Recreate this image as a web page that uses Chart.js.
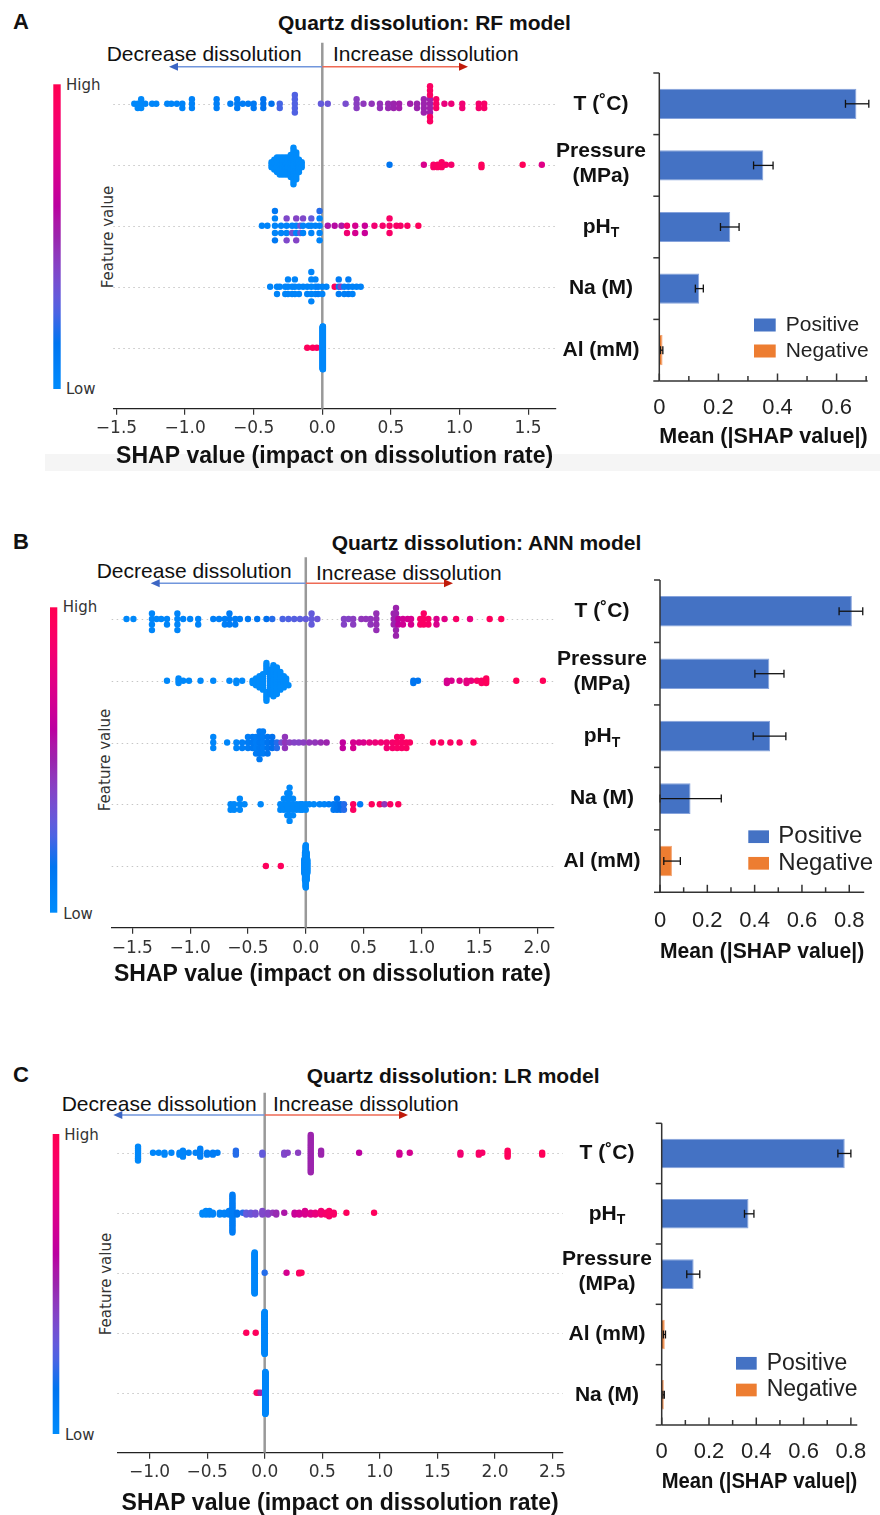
<!DOCTYPE html>
<html>
<head>
<meta charset="utf-8">
<title>Quartz dissolution SHAP</title>
<script src="https://cdn.jsdelivr.net/npm/chart.js@4.4.1/dist/chart.umd.min.js"></script>
<style>
  body { margin: 0; background: #fff; }
  #page { position: relative; width: 880px; height: 1515px; overflow: hidden; background: #fff;
          font-family: "Liberation Sans", Arial, sans-serif; color: #111; }
  #page canvas { position: absolute; }
  .lbl { position: absolute; white-space: nowrap; line-height: 1; transform: translateY(-50%); }
  .band { position: absolute; background: #f5f5f5; }
</style>
</head>
<body>
<div id="page"></div>
<script>
// ============================================================
// Data
// each swarm row: [SHAP value, number of samples, feature value 0..1]
// ============================================================
const featuresA = ['T (˚C)', ['Pressure', '(MPa)'], 'pH_T', 'Na (M)', 'Al (mM)'];
const featuresB = ['T (˚C)', ['Pressure', '(MPa)'], 'pH_T', 'Na (M)', 'Al (mM)'];
const featuresC = ['T (˚C)', 'pH_T', ['Pressure', '(MPa)'], 'Al (mM)', 'Na (M)'];

// --- A: RF model ---
const swarmA_T = [
  [-1.37, 1, 0.02], [-1.345, 2, 0.02], [-1.32, 3, 0.02], [-1.29, 1, 0.03], [-1.24, 1, 0.03], [-1.21, 1, 0.03],
  [-1.13, 1, 0.04], [-1.10, 1, 0.04], [-1.06, 1, 0.05], [-1.02, 2, 0.05], [-0.95, 3, 0.06],
  [-0.77, 3, 0.08], [-0.67, 1, 0.09], [-0.62, 3, 0.1], [-0.58, 1, 0.1], [-0.54, 1, 0.11], [-0.50, 2, 0.12],
  [-0.43, 3, 0.16], [-0.37, 1, 0.18], [-0.31, 2, 0.24], [-0.20, 5, 0.26],
  [-0.01, 1, 0.3], [0.04, 1, 0.32], [0.17, 1, 0.36],
  [0.25, 3, 0.42], [0.30, 1, 0.44], [0.36, 1, 0.45], [0.42, 2, 0.46], [0.48, 2, 0.48], [0.52, 2, 0.5],
  [0.56, 2, 0.52], [0.64, 1, 0.52], [0.69, 2, 0.5], [0.74, 4, 0.5], [0.785, 4, 0.52], [0.785, 5, 0.92],
  [0.83, 3, 0.9], [0.89, 1, 0.8], [0.94, 1, 0.82], [1.02, 2, 0.85], [1.14, 2, 0.88], [1.18, 2, 0.9]
];
const swarmA_P = [
  [-0.37, 3, 0], [-0.35, 5, 0], [-0.33, 7, 0], [-0.31, 8, 0], [-0.29, 8, 0], [-0.27, 8, 0], [-0.25, 8, 0],
  [-0.23, 10, 0], [-0.21, 16, 0], [-0.19, 12, 0], [-0.17, 6, 0], [-0.15, 3, 0],
  [0.49, 1, 0.15], [0.74, 1, 0.72], [0.81, 2, 0.9], [0.84, 2, 0.92], [0.87, 3, 0.92], [0.90, 1, 0.9],
  [0.94, 1, 0.88], [1.16, 2, 0.95], [1.46, 1, 0.97], [1.60, 1, 0.75]
];
const swarmA_pH = [
  [-0.44, 1, 0.05], [-0.40, 1, 0.05], [-0.345, 3, 0.05], [-0.345, 2, 0.12], [-0.30, 2, 0.05],
  [-0.26, 2, 0.05], [-0.26, 2, 0.38], [-0.22, 1, 0.05], [-0.22, 1, 0.35], [-0.19, 2, 0.05], [-0.19, 2, 0.4],
  [-0.16, 2, 0.32], [-0.14, 2, 0.05], [-0.14, 1, 0.38], [-0.10, 1, 0.05], [-0.08, 2, 0.05], [-0.08, 1, 0.3],
  [-0.05, 1, 0.05], [-0.02, 4, 0.05], [-0.02, 1, 0.2],
  [0.04, 1, 0.55], [0.09, 1, 0.58], [0.14, 1, 0.55], [0.18, 2, 0.85], [0.24, 2, 0.7], [0.31, 2, 0.65],
  [0.38, 1, 0.85], [0.44, 1, 0.88], [0.49, 3, 0.9], [0.54, 1, 0.9], [0.57, 1, 0.9], [0.62, 1, 0.92], [0.70, 1, 0.95]
];
const swarmA_Na = [
  [-0.38, 1, 0.05], [-0.33, 2, 0.05], [-0.31, 1, 0.05], [-0.27, 2, 0.05], [-0.25, 3, 0.05], [-0.22, 2, 0.05],
  [-0.20, 3, 0.05], [-0.17, 2, 0.05], [-0.14, 1, 0.05], [-0.11, 2, 0.05], [-0.08, 5, 0.05], [-0.05, 3, 0.05],
  [-0.03, 2, 0.08], [0.0, 2, 0.05], [0.03, 1, 0.05],
  [0.09, 1, 0.95], [0.12, 3, 0.1], [0.135, 1, 0.4], [0.16, 2, 0.08], [0.19, 3, 0.1], [0.22, 2, 0.06],
  [0.25, 1, 0.06], [0.28, 1, 0.06]
];
const swarmA_Al = [[-0.11, 1, 0.95], [-0.07, 1, 0.95], [-0.04, 1, 0.92], [0.004, 130, 0.02]];

const shapRangeA = [-1.523, 1.703];
const meanA = [0.667, 0.352, 0.240, 0.135, 0.011];
const signA = ['pos', 'pos', 'pos', 'pos', 'neg'];
const errLowA = [0.630, 0.319, 0.207, 0.122, 0.004];
const errHighA = [0.709, 0.385, 0.270, 0.149, 0.012];
const barMaxA = 0.705;

// --- B: ANN model ---
const swarmB_T = [
  [-1.55, 1, 0.02], [-1.49, 1, 0.02], [-1.33, 4, 0.03], [-1.29, 1, 0.03], [-1.25, 1, 0.03], [-1.20, 2, 0.04],
  [-1.11, 4, 0.04], [-1.06, 1, 0.05], [-1.0, 1, 0.05], [-0.93, 2, 0.05],
  [-0.80, 1, 0.08], [-0.75, 1, 0.08], [-0.70, 2, 0.08], [-0.66, 3, 0.1], [-0.61, 2, 0.1], [-0.57, 1, 0.1],
  [-0.50, 1, 0.12], [-0.42, 1, 0.14], [-0.34, 1, 0.18], [-0.29, 1, 0.2],
  [-0.20, 1, 0.25], [-0.15, 1, 0.26], [-0.10, 1, 0.27], [-0.05, 1, 0.28], [0.0, 1, 0.3], [0.05, 3, 0.3], [0.10, 1, 0.32],
  [0.33, 2, 0.4], [0.37, 1, 0.4], [0.41, 2, 0.42], [0.48, 1, 0.45], [0.52, 1, 0.45], [0.56, 2, 0.45], [0.61, 4, 0.47],
  [0.76, 3, 0.5], [0.78, 6, 0.5], [0.80, 2, 0.6], [0.84, 2, 0.68], [0.88, 1, 0.7], [0.91, 2, 0.7],
  [0.99, 2, 0.9], [1.02, 3, 0.92], [1.06, 2, 0.9], [1.13, 2, 0.72], [1.20, 1, 0.75], [1.30, 1, 0.9],
  [1.42, 1, 0.78], [1.59, 1, 0.95], [1.69, 1, 0.95]
];
const swarmB_P = [
  [-1.20, 1, 0.02], [-1.10, 3, 0.02], [-1.06, 1, 0.02], [-1.01, 1, 0.02], [-0.91, 1, 0.02], [-0.80, 1, 0.02],
  [-0.66, 1, 0.02], [-0.60, 2, 0.02], [-0.55, 1, 0.02],
  [-0.46, 2, 0], [-0.43, 4, 0], [-0.40, 6, 0], [-0.37, 8, 0], [-0.34, 10, 0], [-0.31, 12, 0.02], [-0.28, 15, 0],
  [-0.25, 13, 0], [-0.22, 9, 0], [-0.19, 6, 0], [-0.17, 3, 0], [-0.15, 1, 0],
  [0.93, 2, 0.15], [0.97, 1, 0.15], [1.22, 2, 0.7], [1.26, 1, 0.72], [1.33, 1, 0.75], [1.39, 2, 0.78],
  [1.43, 1, 0.8], [1.48, 1, 0.9], [1.52, 2, 0.92], [1.56, 3, 0.95], [1.82, 1, 0.97], [2.05, 1, 0.97]
];
const swarmB_pH = [
  [-0.80, 3, 0.03], [-0.68, 1, 0.03], [-0.60, 2, 0.05], [-0.55, 2, 0.08], [-0.50, 3, 0.1], [-0.46, 3, 0.12],
  [-0.43, 4, 0.1], [-0.40, 6, 0.12], [-0.37, 5, 0.1], [-0.33, 4, 0.15], [-0.29, 3, 0.18], [-0.25, 2, 0.2],
  [-0.21, 1, 0.35], [-0.18, 3, 0.45], [-0.14, 1, 0.42], [-0.10, 1, 0.4], [-0.06, 1, 0.4], [-0.02, 1, 0.42],
  [0.03, 1, 0.45], [0.08, 1, 0.45], [0.13, 1, 0.48], [0.18, 1, 0.5],
  [0.32, 2, 0.62], [0.41, 2, 0.7], [0.46, 1, 0.7], [0.50, 1, 0.72], [0.55, 1, 0.8], [0.60, 1, 0.82],
  [0.65, 1, 0.85], [0.70, 2, 0.85], [0.75, 2, 0.88], [0.79, 3, 0.9], [0.83, 3, 0.9], [0.87, 2, 0.92], [0.90, 1, 0.92],
  [1.10, 1, 0.92], [1.17, 1, 0.92], [1.25, 1, 0.92], [1.33, 1, 0.92], [1.45, 1, 0.95]
];
const swarmB_Na = [
  [-0.65, 2, 0.02], [-0.62, 2, 0.02], [-0.57, 3, 0.02], [-0.53, 1, 0.02], [-0.39, 1, 0.02],
  [-0.22, 2, 0.02], [-0.19, 3, 0.02], [-0.16, 5, 0.02], [-0.14, 7, 0.02], [-0.11, 4, 0.02], [-0.08, 2, 0.02],
  [-0.05, 2, 0.02], [-0.03, 2, 0.02], [0.0, 2, 0.02], [0.03, 1, 0.02], [0.07, 1, 0.02],
  [0.12, 1, 0.05], [0.16, 1, 0.05], [0.20, 1, 0.08], [0.24, 2, 0.12], [0.27, 3, 0.15], [0.30, 2, 0.18], [0.33, 2, 0.2],
  [0.41, 2, 0.93], [0.47, 1, 0.1], [0.57, 1, 0.95], [0.64, 1, 0.95], [0.68, 1, 0.45], [0.73, 1, 0.92], [0.80, 1, 0.95]
];
const swarmB_Al = [
  [-0.345, 1, 0.95], [-0.216, 1, 0.95],
  [-0.012, 20, 0.02], [-0.006, 40, 0.02], [0.0, 60, 0.02], [0.006, 40, 0.02], [0.012, 20, 0.02]
];

const shapRangeB = [-1.678, 2.14];
const meanB = [0.811, 0.462, 0.465, 0.129, 0.0505];
const signB = ['pos', 'pos', 'pos', 'pos', 'neg'];
const errLowB = [0.757, 0.401, 0.394, 0.0, 0.016];
const errHighB = [0.857, 0.524, 0.532, 0.259, 0.086];
const barMaxB = 0.863;

// --- C: LR model ---
const swarmC_T = [
  [-1.10, 8, 0.02], [-0.97, 1, 0.03], [-0.92, 1, 0.03], [-0.87, 2, 0.03], [-0.81, 1, 0.04], [-0.74, 2, 0.05],
  [-0.71, 4, 0.05], [-0.66, 1, 0.06], [-0.60, 1, 0.07], [-0.56, 5, 0.08], [-0.50, 2, 0.1], [-0.45, 2, 0.1],
  [-0.41, 1, 0.1], [-0.25, 3, 0.2], [-0.02, 2, 0.3], [0.17, 2, 0.38], [0.20, 1, 0.4], [0.29, 1, 0.42],
  [0.40, 20, 0.5], [0.49, 3, 0.5], [0.82, 1, 0.6], [1.17, 2, 0.68], [1.26, 1, 0.7], [1.70, 2, 0.85],
  [1.86, 2, 0.9], [1.89, 1, 0.9], [2.11, 4, 0.95], [2.41, 2, 0.97]
];
const swarmC_pH = [
  [-0.54, 2, 0.02], [-0.51, 3, 0.02], [-0.48, 3, 0.03], [-0.45, 2, 0.05], [-0.39, 2, 0.06], [-0.35, 2, 0.07],
  [-0.31, 3, 0.08], [-0.28, 22, 0.1], [-0.24, 2, 0.15], [-0.19, 1, 0.2], [-0.16, 2, 0.3], [-0.12, 2, 0.32],
  [-0.08, 2, 0.35], [-0.02, 3, 0.38], [0.03, 2, 0.4], [0.07, 1, 0.45], [0.10, 2, 0.48], [0.17, 1, 0.55],
  [0.26, 2, 0.65], [0.30, 2, 0.68], [0.35, 3, 0.72], [0.40, 2, 0.75], [0.44, 2, 0.8], [0.49, 3, 0.85],
  [0.53, 2, 0.88], [0.56, 4, 0.9], [0.60, 2, 0.9], [0.71, 1, 0.95], [0.95, 1, 0.95]
];
const swarmC_P = [[-0.087, 60, 0.03], [0.0, 1, 0.2], [0.19, 1, 0.7], [0.30, 2, 0.92], [0.32, 1, 0.95]];
const swarmC_Al = [[-0.16, 1, 0.95], [-0.078, 1, 0.95], [0.0, 100, 0.03]];
const swarmC_Na = [[-0.07, 1, 0.95], [-0.055, 1, 0.9], [-0.035, 1, 0.5], [0.006, 100, 0.03]];

const shapRangeC = [-1.28, 2.59];
const meanC = [0.774, 0.367, 0.135, 0.013, 0.009];
const signC = ['pos', 'pos', 'pos', 'neg', 'neg'];
const errLowC = [0.745, 0.35, 0.106, 0.007, 0.005];
const errHighC = [0.80, 0.39, 0.161, 0.016, 0.011];
const barMaxC = 0.827;

const legendNames = ['Positive', 'Negative'];
const barColors = { pos: '#4472C4', neg: '#ED7D31' };

// ============================================================
// Page layout (pixel positions on the 880 x 1515 page)
// ============================================================
const layoutA = {
  shapCanvas: { left: 0, top: 0, width: 560, height: 480 },
  shapArea: { left: 113.3, right: 556, top: 42.7, bottom: 408.7 },
  shapTickPad: 3.4, shapTitlePad: 11.8,
  colorbar: { x: 53.3, w: 7.4, top: 84.3, bottom: 389 },
  arrow: { y: 66.7, left: 169, right: 468 },
  barCanvas: { left: 540, top: 40, width: 340, height: 420 },
  barArea: { left: 659.3, right: 873, top: 73, bottom: 381 },
  barTickPad: 13.8, barTitlePad: 12,
  labelX: 601,
  legend: { boxX: 754, boxW: 21.7, boxH: 13, textX: 785.7, y: [325, 351], size: 21 },
  letter: [13, 21.7], title: [278, 21.7], dec: [106.7, 53.3], inc: [333, 53.3],
  high: [66, 85], low: [66, 389.3], fv: [108.3, 236.7],
  band: { left: 45, top: 454, width: 835, height: 17 }
};
const layoutB = {
  shapCanvas: { left: 0, top: 520, width: 560, height: 480 },
  shapArea: { left: 111.7, right: 553.3, top: 557.25, bottom: 927.75 },
  shapTickPad: 4.3, shapTitlePad: 13.5,
  colorbar: { x: 50, w: 7.3, top: 607.3, bottom: 912.7 },
  arrow: { y: 583.3, left: 150.7, right: 453 },
  barCanvas: { left: 540, top: 560, width: 340, height: 420 },
  barArea: { left: 660, right: 876.7, top: 580, bottom: 892.3 },
  barTickPad: 15.2, barTitlePad: 17.3,
  labelX: 602,
  legend: { boxX: 748.3, boxW: 20.7, boxH: 12.7, textX: 778.3, y: [836.7, 863.3], size: 24 },
  letter: [13, 541.7], title: [331.7, 541.7], dec: [96.7, 570], inc: [316, 571.7],
  high: [62.7, 607], low: [63.3, 914], fv: [105, 760]
};
const layoutC = {
  shapCanvas: { left: 0, top: 1050, width: 570, height: 465 },
  shapArea: { left: 117.3, right: 564, top: 1092.7, bottom: 1452.7 },
  shapTickPad: 3.8, shapTitlePad: 0.2,
  colorbar: { x: 52.7, w: 6.6, top: 1134, bottom: 1434 },
  arrow: { y: 1115, left: 113.3, right: 408 },
  barCanvas: { left: 540, top: 1090, width: 340, height: 425 },
  barArea: { left: 661.7, right: 870, top: 1123.3, bottom: 1425 },
  barTickPad: 13.5, barTitlePad: 22.3,
  labelX: 607,
  legend: { boxX: 736, boxW: 20.7, boxH: 12.7, textX: 766.7, y: [1363.3, 1390], size: 23 },
  letter: [13, 1075], title: [306.7, 1075], dec: [61.7, 1103.3], inc: [273, 1103.3],
  high: [64.3, 1135], low: [65, 1435], fv: [106, 1284]
};

const SANS = '"Liberation Sans", Arial, sans-serif';
const MPL = '"DejaVu Sans", sans-serif';
const page = document.getElementById('page');

// ============================================================
// SHAP red-blue colour map (LCH interpolation, as in shap)
// ============================================================
function shapColor(t) {
  const L = t < 0.5 ? 54 - 28 * t : 40 + 28 * (t - 0.5);
  const C = 70 + 20 * t;
  const h = 4.6588 + (0.35470565 + 2 * Math.PI - 4.6588) * t;
  const a = C * Math.cos(h), b = C * Math.sin(h);
  const fy = (L + 16) / 116, fx = fy + a / 500, fz = fy - b / 200;
  const inv = v => (v > 6 / 29 ? v * v * v : 3 * (6 / 29) * (6 / 29) * (v - 4 / 29));
  const X = 0.95047 * inv(fx), Y = inv(fy), Z = 1.08883 * inv(fz);
  const lin = [3.2406 * X - 1.5372 * Y - 0.4986 * Z,
               -0.9689 * X + 1.8758 * Y + 0.0415 * Z,
               0.0557 * X - 0.2040 * Y + 1.0570 * Z];
  const rgb = lin.map(v => {
    v = Math.min(1, Math.max(0, v));
    v = v <= 0.0031308 ? 12.92 * v : 1.055 * Math.pow(v, 1 / 2.4) - 0.055;
    return Math.round(v * 255);
  });
  return 'rgb(' + rgb.join(',') + ')';
}

// expand [x, n, c] groups into single samples
function expand(groups) {
  const xs = [], cs = [];
  groups.forEach(([x, n, c]) => { for (let k = 0; k < n; k++) { xs.push(x); cs.push(c); } });
  return { xs, cs };
}

// beeswarm offsets: same binning rule as shap's summary plot
function swarmOffsets(xs) {
  const mn = Math.min(...xs), mx = Math.max(...xs);
  const q = xs.map(v => Math.round(100 * (v - mn) / (mx - mn + 1e-8)));
  const order = xs.map((_, i) => i).sort((i, j) => q[i] - q[j] || i - j);
  const ys = new Array(xs.length).fill(0);
  let layer = 0, last = -1;
  order.forEach(i => {
    if (q[i] !== last) layer = 0;
    ys[i] = Math.ceil(layer / 2) * ((layer % 2) * 2 - 1);
    layer++;
    last = q[i];
  });
  const m = Math.max(...ys.map(v => v + 1));
  return ys.map(v => v * 0.9 * (0.4 / m));
}

function addCanvas(box) {
  const cv = document.createElement('canvas');
  cv.width = box.width; cv.height = box.height;
  cv.style.left = box.left + 'px'; cv.style.top = box.top + 'px';
  cv.style.width = box.width + 'px'; cv.style.height = box.height + 'px';
  page.appendChild(cv);
  return cv;
}

function addText(text, pos, css) {
  const d = document.createElement('div');
  d.className = 'lbl';
  d.textContent = text;
  d.style.left = pos[0] + 'px';
  d.style.top = pos[1] + 'px';
  Object.assign(d.style, css);
  page.appendChild(d);
}

function line(ctx, x1, y1, x2, y2) {
  ctx.beginPath(); ctx.moveTo(x1, y1); ctx.lineTo(x2, y2); ctx.stroke();
}

// ============================================================
// Plugins
// ============================================================
const shapDecor = {
  id: 'shapDecor',
  beforeDatasetsDraw(chart, args, opts) {
    const { ctx, chartArea: a, scales: { x, y } } = chart;
    ctx.save();
    // dotted guide line on every feature row
    ctx.strokeStyle = '#c6c6c6';
    ctx.lineWidth = 1;
    ctx.setLineDash([1.5, 3.5]);
    for (let r = 0; r < opts.rows; r++) {
      const py = Math.round(y.getPixelForValue(r)) + 0.5;
      line(ctx, a.left, py, a.right, py);
    }
    ctx.setLineDash([]);
    // grey line at SHAP = 0
    const x0 = x.getPixelForValue(0);
    ctx.strokeStyle = '#999999';
    ctx.lineWidth = 2.5;
    line(ctx, x0, a.top, x0, a.bottom);
    ctx.restore();
  },
  afterDraw(chart, args, opts) {
    const { ctx, scales: { x } } = chart;
    const c = opts.canvas;
    ctx.save();
    // colour bar
    const cb = opts.colorbar;
    const g = ctx.createLinearGradient(0, cb.bottom - c.top, 0, cb.top - c.top);
    for (let k = 0; k <= 20; k++) g.addColorStop(k / 20, shapColor(k / 20));
    ctx.fillStyle = g;
    ctx.fillRect(cb.x - c.left, cb.top - c.top, cb.w, cb.bottom - cb.top);
    // decrease / increase arrows
    const x0 = x.getPixelForValue(0);
    const ay = opts.arrow.y - c.top;
    const arrow = (tip, lineCol, headCol) => {
      const dir = tip < x0 ? -1 : 1;
      ctx.strokeStyle = lineCol; ctx.lineWidth = 1.5;
      line(ctx, x0, ay, tip - dir * 6, ay);
      ctx.fillStyle = headCol;
      ctx.beginPath();
      ctx.moveTo(tip, ay);
      ctx.lineTo(tip - dir * 9, ay - 4);
      ctx.lineTo(tip - dir * 9, ay + 4);
      ctx.closePath();
      ctx.fill();
    };
    arrow(opts.arrow.left - c.left, '#7196dc', '#3c66c4');
    arrow(opts.arrow.right - c.left, '#ee6a55', '#c01a0a');
    ctx.restore();
  }
};

function drawFeatureLabel(ctx, label, cx, cy) {
  ctx.fillStyle = '#111';
  ctx.textBaseline = 'middle';
  ctx.font = 'bold 21px ' + SANS;
  if (Array.isArray(label)) {
    ctx.textAlign = 'center';
    label.forEach((t, k) => ctx.fillText(t, cx, cy + (k - (label.length - 1) / 2) * 25 - 2));
  } else if (label.includes('_')) {
    const [base, sub] = label.split('_');
    const w1 = ctx.measureText(base).width;
    ctx.font = 'bold 14px ' + SANS;
    const w2 = ctx.measureText(sub).width;
    const start = cx - (w1 + w2) / 2;
    ctx.textAlign = 'left';
    ctx.fillText(sub, start + w1, cy + 6.5);
    ctx.font = 'bold 21px ' + SANS;
    ctx.fillText(base, start, cy);
  } else {
    ctx.textAlign = 'center';
    ctx.fillText(label, cx, cy);
  }
}

const barDecor = {
  id: 'barDecor',
  afterDatasetsDraw(chart, args, opts) {
    const { ctx, chartArea: a, scales: { x, y } } = chart;
    const c = opts.canvas;
    ctx.save();
    // error bars
    ctx.strokeStyle = '#111';
    ctx.lineWidth = 1.3;
    opts.low.forEach((lo, i) => {
      const py = y.getPixelForValue(i);
      const xl = x.getPixelForValue(lo), xh = x.getPixelForValue(opts.high[i]);
      line(ctx, xl, py, xh, py);
      line(ctx, xl, py - 4, xl, py + 4);
      line(ctx, xh, py - 4, xh, py + 4);
    });
    // axes with excel-like ticks
    ctx.strokeStyle = '#333';
    ctx.lineWidth = 1.5;
    line(ctx, a.left, a.top, a.left, a.bottom);
    line(ctx, a.left, a.bottom, a.right, a.bottom);
    const n = chart.data.labels.length;
    for (let k = 0; k <= n; k++) {
      const py = a.top + k * (a.bottom - a.top) / n;
      line(ctx, a.left - 6, py, a.left, py);
    }
    x.ticks.forEach(t => {
      const px = x.getPixelForValue(t.value);
      const major = Math.round(t.value * 10) % 2 === 0;
      line(ctx, px, a.bottom, px, a.bottom - (major ? 7.5 : 5));
    });
    // feature names
    chart.data.labels.forEach((lab, i) => drawFeatureLabel(ctx, lab, opts.labelX - c.left, y.getPixelForValue(i)));
    // legend
    const lg = opts.legend;
    chart.data.datasets.forEach((ds, k) => {
      const cy = lg.y[k] - c.top;
      ctx.fillStyle = ds.backgroundColor;
      ctx.fillRect(lg.boxX - c.left, cy - lg.boxH / 2, lg.boxW, lg.boxH);
      ctx.fillStyle = '#222';
      ctx.font = lg.size + 'px ' + SANS;
      ctx.textAlign = 'left';
      ctx.textBaseline = 'middle';
      ctx.fillText(ds.label, lg.textX - c.left, cy);
    });
    ctx.restore();
  }
};

// ============================================================
// Charts
// ============================================================
function createShapChart(rows, range, L) {
  const box = L.shapCanvas, area = L.shapArea;
  const cv = addCanvas(box);
  const datasets = rows.map((groups, r) => {
    const { xs, cs } = expand(groups);
    const ys = swarmOffsets(xs);
    return {
      data: xs.map((v, i) => ({ x: v, y: r + ys[i] })),
      pointBackgroundColor: cs.map(shapColor),
      pointRadius: 3.2,
      pointHoverRadius: 3.2,
      pointBorderWidth: 0
    };
  });
  new Chart(cv, {
    type: 'scatter',
    data: { datasets },
    options: {
      responsive: false,
      animation: false,
      devicePixelRatio: 1,
      events: [],
      layout: { padding: { left: area.left - box.left, right: box.left + box.width - area.right, top: area.top - box.top, bottom: 0 } },
      plugins: {
        legend: { display: false },
        tooltip: { enabled: false },
        shapDecor: { rows: rows.length, canvas: box, colorbar: L.colorbar, arrow: L.arrow }
      },
      scales: {
        x: {
          type: 'linear',
          min: range[0],
          max: range[1],
          afterFit: s => { s.height = box.top + box.height - area.bottom; },
          border: { display: true, color: '#222', width: 1.3 },
          grid: { display: true, drawOnChartArea: false, drawTicks: true, tickLength: 6, color: '#333', lineWidth: 1.2 },
          ticks: {
            stepSize: 0.5,
            includeBounds: false,
            autoSkip: false,
            maxRotation: 0,
            minRotation: 0,
            padding: L.shapTickPad,
            color: '#333',
            font: { family: MPL, size: 17, lineHeight: 1.2 },
            callback: v => (Math.abs(v) < 1e-9 ? 0 : v).toFixed(1).replace('-', '\u2212')
          },
          title: {
            display: true,
            text: 'SHAP value (impact on dissolution rate)',
            color: '#111',
            font: { family: SANS, size: 23, weight: 'bold', lineHeight: 1 },
            padding: { top: 0, bottom: L.shapTitlePad }
          }
        },
        y: { type: 'linear', min: -1, max: rows.length, reverse: true, display: false }
      }
    },
    plugins: [shapDecor]
  });
}

function createBarChart(features, mean, sign, low, high, maxX, L) {
  const box = L.barCanvas, area = L.barArea;
  const cv = addCanvas(box);
  const makeSet = (key, idx) => ({
    label: legendNames[idx],
    data: mean.map((v, i) => (sign[i] === key ? v : null)),
    backgroundColor: barColors[key],
    borderColor: key === 'pos' ? '#86a3dc' : '#f3a574',
    borderWidth: 1,
    grouped: false,
    barPercentage: 0.49,
    categoryPercentage: 1
  });
  new Chart(cv, {
    type: 'bar',
    data: { labels: features, datasets: [makeSet('pos', 0), makeSet('neg', 1)] },
    options: {
      indexAxis: 'y',
      responsive: false,
      animation: false,
      devicePixelRatio: 1,
      events: [],
      layout: { padding: { left: area.left - box.left, right: box.left + box.width - area.right, top: area.top - box.top, bottom: 0 } },
      plugins: {
        legend: { display: false },
        tooltip: { enabled: false },
        barDecor: { canvas: box, low, high, labelX: L.labelX, legend: L.legend }
      },
      scales: {
        x: {
          type: 'linear',
          min: 0,
          max: maxX,
          afterFit: s => { s.height = box.top + box.height - area.bottom; },
          border: { display: false },
          grid: { display: false, drawTicks: false },
          ticks: {
            stepSize: 0.1,
            includeBounds: false,
            autoSkip: false,
            maxRotation: 0,
            minRotation: 0,
            padding: L.barTickPad,
            color: '#222',
            font: { family: SANS, size: 22, lineHeight: 1.2 },
            callback: v => {
              const k = Math.round(v * 10);
              if (k % 2 !== 0) return '';
              return k === 0 ? '0' : (k / 10).toFixed(1);
            }
          },
          title: {
            display: true,
            text: 'Mean (|SHAP value|)',
            color: '#111',
            font: { family: SANS, size: 22, weight: 'bold', lineHeight: 1 },
            padding: { top: 0, bottom: L.barTitlePad }
          }
        },
        y: { type: 'category', display: false }
      }
    },
    plugins: [barDecor]
  });
}

function addPanelText(letter, title, L) {
  if (L.band) {
    const b = document.createElement('div');
    b.className = 'band';
    Object.assign(b.style, { left: L.band.left + 'px', top: L.band.top + 'px', width: L.band.width + 'px', height: L.band.height + 'px' });
    page.appendChild(b);
  }
  addText(letter, L.letter, { fontWeight: 'bold', fontSize: '22px' });
  addText(title, L.title, { fontWeight: 'bold', fontSize: '21px' });
  addText('Decrease dissolution', L.dec, { fontSize: '21px' });
  addText('Increase dissolution', L.inc, { fontSize: '21px' });
  const mpl = { fontFamily: MPL, fontSize: '15px', color: '#333' };
  addText('High', L.high, mpl);
  addText('Low', L.low, mpl);
  addText('Feature value', L.fv, Object.assign({}, mpl, { transform: 'translate(-50%, -50%) rotate(-90deg)' }));
}

// Panel A
addPanelText('A', 'Quartz dissolution: RF model', layoutA);
createShapChart([swarmA_T, swarmA_P, swarmA_pH, swarmA_Na, swarmA_Al], shapRangeA, layoutA);
createBarChart(featuresA, meanA, signA, errLowA, errHighA, barMaxA, layoutA);

// Panel B
addPanelText('B', 'Quartz dissolution: ANN model', layoutB);
createShapChart([swarmB_T, swarmB_P, swarmB_pH, swarmB_Na, swarmB_Al], shapRangeB, layoutB);
createBarChart(featuresB, meanB, signB, errLowB, errHighB, barMaxB, layoutB);

// Panel C
addPanelText('C', 'Quartz dissolution: LR model', layoutC);
createShapChart([swarmC_T, swarmC_pH, swarmC_P, swarmC_Al, swarmC_Na], shapRangeC, layoutC);
createBarChart(featuresC, meanC, signC, errLowC, errHighC, barMaxC, layoutC);
</script>
</body>
</html>
